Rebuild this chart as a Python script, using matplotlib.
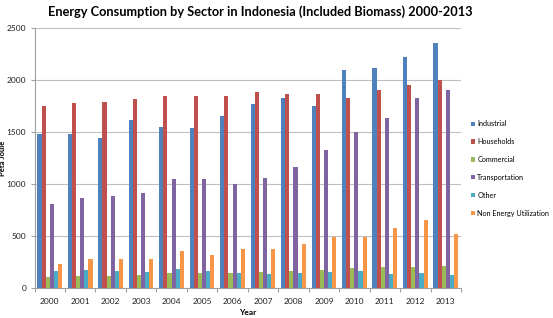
import numpy as np
import matplotlib
matplotlib.use("Agg")
import matplotlib.pyplot as plt

years = [str(y) for y in range(2000, 2014)]
industrial = [1477, 1483, 1441, 1618, 1547, 1541, 1647, 1766, 1820, 1746, 2090, 2112, 2221, 2350]
households = [1743, 1772, 1782, 1817, 1846, 1839, 1839, 1878, 1865, 1865, 1826, 1900, 1948, 1993]
commercial = [112, 119, 122, 128, 144, 150, 150, 160, 168, 178, 190, 202, 203, 216]
transportation = [812, 867, 889, 915, 1046, 1050, 1002, 1053, 1159, 1323, 1502, 1631, 1826, 1900]
other = [167, 176, 170, 160, 183, 167, 150, 141, 148, 157, 167, 141, 149, 132]
non_energy = [234, 282, 282, 279, 362, 317, 378, 375, 428, 495, 495, 577, 650, 516]

series = [
    ("Industrial", industrial, "#4F81BD"),
    ("Households", households, "#C0504D"),
    ("Commercial", commercial, "#9BBB59"),
    ("Transportation", transportation, "#8064A2"),
    ("Other", other, "#4BACC6"),
    ("Non Energy Utilization", non_energy, "#F79646"),
]

plt.rcParams['font.family'] = ['Lato', 'DejaVu Sans']

fig = plt.figure(figsize=(5.53, 3.18), dpi=100)
ax = fig.add_axes([0.0624, 0.0934, 0.7712, 0.8201])

x = np.arange(len(years))
bw = 0.135
for i, (name, vals, col) in enumerate(series):
    ax.bar(x + (i - 2.5) * bw, vals, width=bw, color=col, label=name,
           edgecolor='none', zorder=3)

ax.set_xlim(-0.5, len(years) - 0.5)
ax.set_ylim(0, 2500)
ax.set_yticks(range(0, 2501, 500))
ax.yaxis.grid(True, color='#BFBFBF', linewidth=0.8, zorder=0)
ax.set_xticks(x)
ax.set_xticklabels(years)
ax.set_xticks(np.arange(-0.5, len(years), 1), minor=True)
ax.tick_params(axis='x', which='major', length=0, labelsize=6, pad=7, colors='#222222')
ax.tick_params(axis='x', which='minor', length=3, color='#A0A0A0', width=0.8)
ax.tick_params(axis='y', length=3, color='#A0A0A0', labelsize=6, colors='#222222', width=0.8, pad=3)
for s in ['top', 'right']:
    ax.spines[s].set_visible(False)
ax.spines['left'].set_color('#A0A0A0')
ax.spines['bottom'].set_color('#A0A0A0')
ax.spines['left'].set_linewidth(0.8)
ax.spines['bottom'].set_linewidth(0.8)

ax.set_ylabel("Peta Joule", fontsize=5.5, fontweight='bold')
ax.yaxis.set_label_coords(-0.066, 0.5)
ax.set_xlabel("Year", fontsize=6, fontweight='bold', labelpad=3)

fig.text(0.47, 0.962, "Energy Consumption by Sector in Indonesia (Included Biomass) 2000-2013",
         ha='center', va='center', fontsize=9.2, fontweight='bold')

leg = ax.legend(loc='upper left', bbox_to_anchor=(1.017, 0.655), frameon=False,
                fontsize=5.2, handlelength=0.55, handleheight=0.55,
                handletextpad=0.3, labelspacing=1.5, borderaxespad=0)

fig.savefig("out.png", dpi=100)
